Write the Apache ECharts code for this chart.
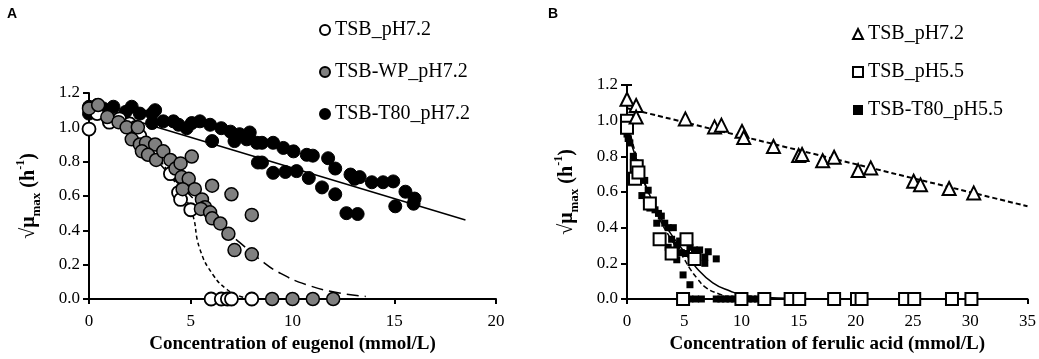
<!DOCTYPE html>
<html lang="en">
<head>
    <meta charset="utf-8">
    <title>growth rate vs concentration</title>
    <script src="https://cdn.jsdelivr.net/npm/echarts@6/dist/echarts.min.js"></script>
    <style>
        html, body { margin: 0; padding: 0; background: #fff; }
        #chart { width: 1039px; height: 359px; }
    </style>
</head>
<body>
<div id="chart"></div>
<script>
    // ---- panel A : eugenol ----
    var tsbA = [[0,0.99],[0.4,1.08],[1,1.03],[1.5,1.05],[2,1.02],[2.3,1.0],[2.5,0.95],[4,0.73],[4.4,0.62],[4.5,0.58],[5,0.52],
        [6,0],[6.5,0],[6.8,0],[7,0],[8,0]];
    var wpA = [[0,1.11],[0.45,1.13],[0.9,1.06],[1.45,1.03],[1.85,1.0],[2.4,1.0],[2.1,0.93],[2.5,0.9],[2.8,0.91],[3.25,0.9],
        [2.6,0.86],[2.9,0.84],[3.3,0.81],[3.65,0.86],[4.0,0.81],[4.25,0.76],[4.5,0.79],[4.55,0.71],[4.9,0.7],[4.6,0.64],
        [5.2,0.64],[5.05,0.83],[5.55,0.58],[5.7,0.535],[5.5,0.525],[5.95,0.505],[6.05,0.47],[6.45,0.44],[6.85,0.38],
        [6.05,0.66],[7.0,0.61],[7.15,0.285],[8.0,0.49],[8.0,0.26],[9,0],[10,0],[11,0],[12,0]];
    var t80A = [[0,1.08],[0,1.12],[0.4,1.13],[0.7,1.11],[1.2,1.12],[1.8,1.09],[2.1,1.12],[2.5,1.08],[3.1,1.08],[3.25,1.1],
        [3.1,1.025],[3.65,1.035],[4.15,1.035],[4.4,1.015],[4.8,0.995],[5.05,1.025],[5.45,1.035],[5.95,1.015],[6.05,0.92],
        [6.5,0.995],[6.95,0.975],[7.15,0.92],[7.4,0.96],[7.75,0.93],[7.9,0.97],[8.25,0.91],[8.3,0.795],[8.5,0.91],
        [9.05,0.91],[9.55,0.88],[10.05,0.86],[10.7,0.84],[11.0,0.835],[11.75,0.82],[12.1,0.76],[12.85,0.725],[13.05,0.70],
        [13.3,0.71],[13.9,0.68],[14.45,0.68],[14.95,0.685],[15.55,0.625],[16.0,0.585],[15.95,0.555],[15.05,0.54],
        [8.5,0.795],[9.05,0.735],[9.65,0.74],[10.2,0.745],[10.8,0.705],[11.45,0.65],[12.1,0.61],[12.65,0.50],[13.2,0.495]];
    var fitTsbA = [[0,1.10],[1,1.07],[2,1.0],[3,0.88],[4,0.72],[5,0.52],[5.45,0.29],[6.1,0.14],[6.8,0.054],[7.4,0.017],[7.8,0.005]];
    var fitWpA = [[0,1.10],[1,1.06],[2,0.97],[3,0.85],[4,0.72],[5,0.60],[6,0.48],[7,0.37],[7.4,0.33],[8.4,0.23],[9.4,0.15],
        [10.7,0.083],[12.3,0.035],[13.6,0.015]];
    var fitT80A = [[0,1.12],[18.5,0.46]];

    // ---- panel B : ferulic acid ----
    var triB = [[0,1.12],[0.8,1.085],[0.8,1.02],[5.1,1.01],[7.65,0.965],[8.25,0.975],[10.05,0.94],[10.2,0.905],[12.8,0.855],
        [15.0,0.805],[15.3,0.81],[17.1,0.775],[18.1,0.795],[20.2,0.72],[21.3,0.735],[25.05,0.66],[25.65,0.64],[28.15,0.62],[30.3,0.595]];
    var errB = [[0,1.04,1.2]];
    var sqB = [[0,1.0],[0,0.96],[0.85,0.745],[0.7,0.675],[1.0,0.71],[2.0,0.535],[2.85,0.335],[3.9,0.255],[5.2,0.335],[5.9,0.225],
        [4.9,0],[10,0],[12,0],[14.3,0],[15.05,0],[18.1,0],[20.1,0],[20.5,0],[24.3,0],[25.1,0],[28.4,0],[30.1,0]];
    var t80B = [[0,0.99],[0,0.955],[0,0.925],[0.1,0.9],[0.25,0.875],[0.55,0.8],[0.7,0.765],[0.85,0.725],[1.15,0.68],[1.55,0.665],
        [1.3,0.58],[1.85,0.61],[1.7,0.555],[2.15,0.545],[2.0,0.51],[2.45,0.5],[2.75,0.48],[3.0,0.465],[2.6,0.425],[3.3,0.425],
        [3.6,0.4],[4.05,0.4],[3.9,0.335],[3.6,0.29],[4.35,0.3],[4.6,0.325],[4.35,0.22],[4.9,0.135],[5.5,0.08],[4.75,0.26],
        [5.2,0.255],[5.65,0.235],[5.9,0.275],[6.35,0.275],[6.8,0.235],[7.1,0.265],[6.8,0.2],[7.8,0.225],[5.5,0.29],
        [5.5,0],[6,0],[6.5,0],[7.8,0],[8.2,0],[8.6,0],[9,0],[9.4,0],[9.8,0],[10.2,0],[10.6,0],[11,0],[11.4,0],[11.8,0],[12.2,0]];
    var fitSqB = [[0,1.0],[1,0.76],[2,0.57],[3,0.43],[4,0.32],[4.9,0.235],[5.5,0.17],[6.1,0.118],[6.9,0.064],[8.1,0.027],[9,0.012],[10,0.004]];
    var fitT80B = [[0,0.95],[1,0.75],[2,0.58],[3,0.45],[4,0.35],[4.7,0.29],[6.1,0.173],[7.5,0.091],[9,0.045],[10.4,0.018],
        [12.2,0.009],[15,0.003],[17,0.001]];

    var serif = 'Liberation Serif, Times New Roman, serif';

    var yName = '{r|√}{m|μ}{s|max}{n| (h}{p|-1}{n|)}';
    var yRich = {
        r: { fontFamily: serif, fontSize: 20, lineHeight: 28, verticalAlign: 'middle', color: '#000' },
        m: { fontFamily: serif, fontSize: 20, fontWeight: 'bold', lineHeight: 28, verticalAlign: 'middle', color: '#000' },
        s: { fontFamily: serif, fontSize: 13, fontWeight: 'bold', lineHeight: 13, verticalAlign: 'bottom', color: '#000' },
        n: { fontFamily: serif, fontSize: 20, fontWeight: 'bold', lineHeight: 28, verticalAlign: 'middle', color: '#000' },
        p: { fontFamily: serif, fontSize: 12, fontWeight: 'bold', lineHeight: 12, verticalAlign: 'top', color: '#000' }
    };

    function xAxisOf(idx, max, name) {
        return {
            type: 'value', gridIndex: idx, min: 0, max: max, interval: 5,
            name: name, nameLocation: 'middle', nameGap: 36,
            nameTextStyle: { fontFamily: serif, fontSize: 19, fontWeight: 'bold', color: '#000' },
            axisLine: { onZero: false, lineStyle: { color: '#000', width: 2 } },
            axisTick: { show: true, length: 5, lineStyle: { color: '#000', width: 2 } },
            axisLabel: { fontFamily: serif, fontSize: 17, color: '#000', margin: 14 },
            splitLine: { show: false }
        };
    }
    function yAxisOf(idx) {
        return {
            type: 'value', gridIndex: idx, min: 0, max: 1.2, interval: 0.2,
            name: yName, nameLocation: 'middle', nameGap: 46, nameRotate: 90,
            nameTextStyle: { rich: yRich },
            axisLine: { show: true, onZero: false, lineStyle: { color: '#000', width: 2 } },
            axisTick: { show: true, length: 6, lineStyle: { color: '#000', width: 2 } },
            axisLabel: { fontFamily: serif, fontSize: 17, color: '#000', margin: 9,
                formatter: function (v) { return v.toFixed(1); } },
            splitLine: { show: false }
        };
    }
    function fitLine(name, xi, data, type, width) {
        return {
            name: name, type: 'line', xAxisIndex: xi, yAxisIndex: xi, data: data,
            smooth: true, showSymbol: false, symbol: 'none', z: 1, silent: true,
            lineStyle: { color: '#000', width: width, type: type }
        };
    }

    var chart = echarts.init(document.getElementById('chart'), null, { renderer: 'canvas' });
    chart.setOption({
        animation: false,
        backgroundColor: '#fff',
        textStyle: { fontFamily: serif, color: '#000' },
        title: [
            { text: 'A', left: 2, top: 2, textStyle: { fontFamily: 'Liberation Sans, Arial, sans-serif', fontSize: 14, fontWeight: 'bold', color: '#000' } },
            { text: 'B', left: 543, top: 2, textStyle: { fontFamily: 'Liberation Sans, Arial, sans-serif', fontSize: 14, fontWeight: 'bold', color: '#000' } }
        ],
        grid: [
            { left: 89, top: 93, width: 407, height: 208 },
            { left: 627, top: 85, width: 402, height: 220 }
        ],
        xAxis: [xAxisOf(0, 20, 'Concentration of eugenol (mmol/L)'), xAxisOf(1, 35, 'Concentration of ferulic acid (mmol/L)')],
        yAxis: [yAxisOf(0), yAxisOf(1)],
        legend: [
            {
                data: ['TSB_pH7.2', 'TSB-WP_pH7.2', 'TSB-T80_pH7.2'],
                orient: 'vertical', left: 314, top: 15, itemGap: 22, itemWidth: 10, itemHeight: 10,
                textStyle: { fontFamily: serif, fontSize: 20, color: '#000' }
            },
            {
                data: ['TSB_pH7.2 (B)', 'TSB_pH5.5', 'TSB-T80_pH5.5'],
                orient: 'vertical', left: 847, top: 19, itemGap: 18, itemWidth: 10, itemHeight: 10,
                formatter: function (n) { return n.replace(' (B)', ''); },
                textStyle: { fontFamily: serif, fontSize: 20, color: '#000' }
            }
        ],
        series: [
            fitLine('fitTsbA', 0, fitTsbA, [4, 3], 1.5),
            fitLine('fitWpA', 0, fitWpA, [12, 6], 1.5),
            fitLine('fitT80A', 0, fitT80A, 'solid', 1.5),
            {
                name: 'TSB-T80_pH7.2', type: 'scatter', xAxisIndex: 0, yAxisIndex: 0, data: t80A, symbol: 'circle', symbolSize: 13,
                itemStyle: { color: '#000', borderColor: '#000', borderWidth: 1, opacity: 1 }
            },
            {
                name: 'TSB_pH7.2', type: 'scatter', xAxisIndex: 0, yAxisIndex: 0, data: tsbA, symbol: 'circle', symbolSize: 13,
                itemStyle: { color: '#fff', borderColor: '#000', borderWidth: 1.8, opacity: 1 }
            },
            {
                name: 'TSB-WP_pH7.2', type: 'scatter', xAxisIndex: 0, yAxisIndex: 0, data: wpA, symbol: 'circle', symbolSize: 13,
                itemStyle: { color: '#808080', borderColor: '#000', borderWidth: 1.5, opacity: 1 }
            },

            fitLine('fitTriB', 1, [[0, 1.07], [35, 0.52]], [5, 3], 2),
            fitLine('fitSqB', 1, fitSqB, [5, 3], 1.5),
            fitLine('fitT80B', 1, fitT80B, 'solid', 1.5),
            {
                name: 'errB', type: 'custom', xAxisIndex: 1, yAxisIndex: 1, data: errB, z: 1, silent: true,
                renderItem: function (params, api) {
                    var lo = api.coord([api.value(0), api.value(1)]);
                    var hi = api.coord([api.value(0), api.value(2)]);
                    return {
                        type: 'group',
                        children: [
                            { type: 'line', shape: { x1: lo[0], y1: lo[1], x2: hi[0], y2: hi[1] }, style: { stroke: '#000', lineWidth: 2 } },
                            { type: 'line', shape: { x1: hi[0] - 5, y1: hi[1], x2: hi[0] + 5, y2: hi[1] }, style: { stroke: '#000', lineWidth: 2 } }
                        ]
                    };
                }
            },
            {
                name: 'TSB-T80_pH5.5', type: 'scatter', xAxisIndex: 1, yAxisIndex: 1, data: t80B, symbol: 'rect', symbolSize: 7,
                itemStyle: { color: '#000', opacity: 1 }
            },
            {
                name: 'TSB_pH5.5', type: 'scatter', xAxisIndex: 1, yAxisIndex: 1, data: sqB, symbol: 'rect', symbolSize: 12,
                itemStyle: { color: '#fff', borderColor: '#000', borderWidth: 2, opacity: 1 }
            },
            {
                name: 'TSB_pH7.2 (B)', type: 'scatter', xAxisIndex: 1, yAxisIndex: 1, data: triB, symbol: 'triangle', symbolSize: 13,
                itemStyle: { color: '#fff', borderColor: '#000', borderWidth: 2, opacity: 1 }
            }
        ]
    });
</script>
</body>
</html>
